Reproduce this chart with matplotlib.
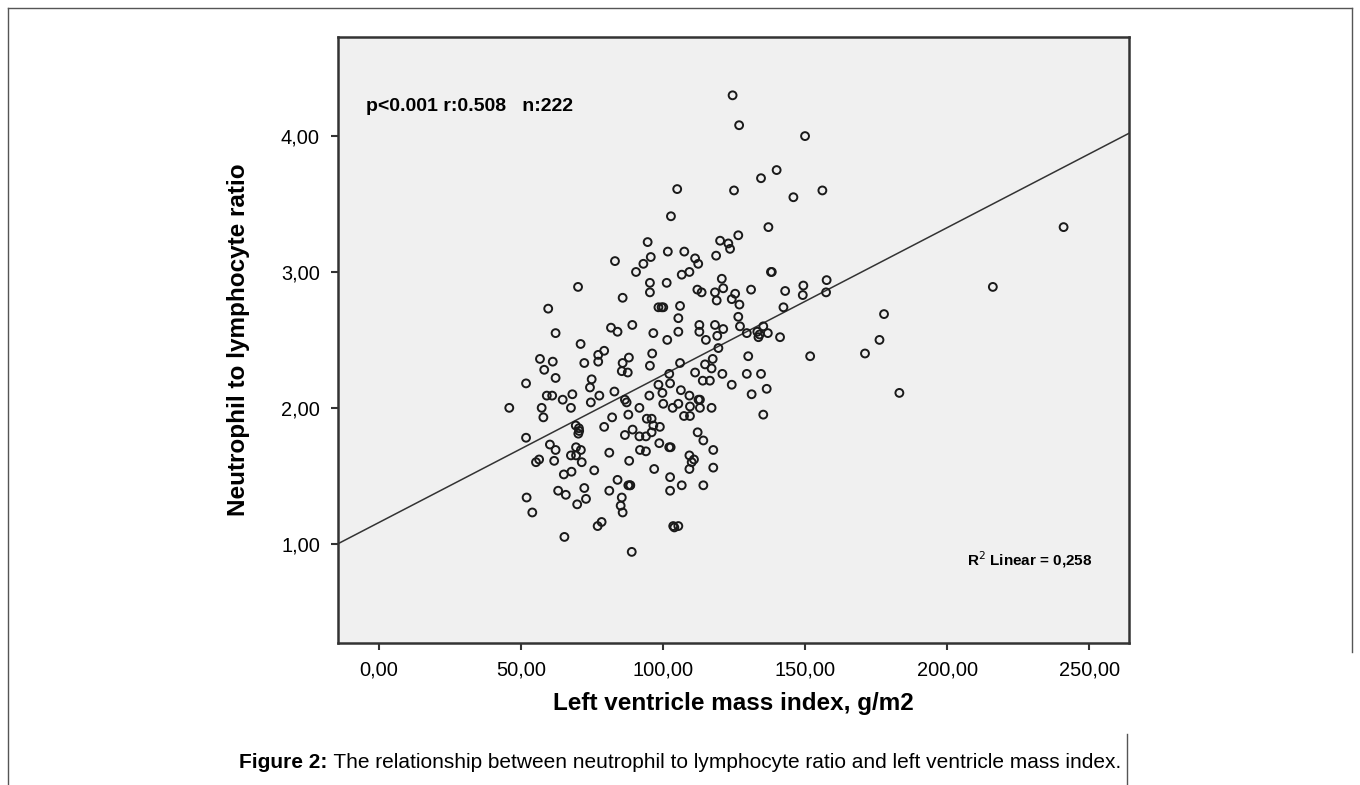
import matplotlib.pyplot as plt
from matplotlib.lines import Line2D

plt.rcParams['font.family'] = ['Liberation Sans', 'DejaVu Sans']

# left ventricle mass index (g/m2) and neutrophil to lymphocyte ratio
lvmi = [
    59.6, 62.2, 81.7, 84.0, 71.0, 79.3, 77.2, 77.2, 56.7, 61.2, 58.2, 72.3, 62.2, 51.8, 74.9,
    74.3, 82.9, 59.1, 61.0, 68.1, 77.6, 64.7, 74.6, 45.9, 57.3, 67.6, 57.9, 82.1, 69.3, 79.3,
    70.4, 70.2, 51.8, 60.2, 62.2, 69.4, 71.1, 81.1, 56.4, 55.3, 61.7, 67.6, 69.4, 71.4, 67.8,
    65.1, 75.8, 84.0, 72.3, 63.1, 65.8, 81.1, 52.0, 69.8, 72.9, 54.0, 77.0, 78.4, 65.3,
    105.0, 102.8, 94.6, 120.1, 123.0, 123.6, 83.1, 93.1, 95.7, 101.7, 107.5, 111.3, 112.4,
    118.7, 90.5, 106.6, 109.3, 95.4, 95.4, 101.3, 120.7, 112.1, 113.6, 118.3, 121.2, 85.8,
    98.4, 100.1, 106.0, 105.4, 89.2, 96.6, 101.5, 105.4, 112.8, 112.8, 118.3, 121.2, 119.1,
    115.1, 119.5, 96.2, 88.0, 85.8, 85.5, 87.6, 95.4, 106.0, 117.5, 114.8, 117.1, 111.3,
    120.9, 102.2, 102.5, 114.0, 116.5, 98.4, 99.8, 106.3, 109.3, 113.0, 86.6, 87.2, 95.2,
    100.1, 105.4, 103.4, 109.5, 91.7, 113.0, 117.1, 87.8, 94.3, 96.0, 107.4, 109.5, 118.9,
    96.6, 98.9, 86.6, 89.3, 91.7, 94.0, 96.0, 112.2, 114.2, 91.9, 94.0, 98.7, 102.2, 102.7,
    117.7, 109.3, 110.9, 110.1, 109.3, 117.7, 88.1, 96.9, 102.5, 106.6, 102.5, 114.2, 87.8,
    88.4, 85.5, 85.1, 85.8, 103.6, 105.4, 89.0,
    124.5, 126.8, 150.0, 140.0, 134.5, 125.0, 145.9, 156.1,
    137.1, 126.5, 138.0, 138.3, 125.4, 124.2, 126.9, 131.0, 143.0, 149.4, 149.2, 157.6,
    157.4, 142.4, 126.5, 127.1, 135.3,
    129.5, 133.2, 133.6, 136.9, 141.2, 130.0, 151.8, 124.2, 129.5, 134.5, 131.2, 136.5, 135.3,
    241.0, 216.1, 177.8, 176.2, 171.1, 183.2,
    70.1, 99.5, 112.5, 88.5, 70.5, 134.0, 104.0,
]
nlr = [
    2.73, 2.55, 2.59, 2.56, 2.47, 2.42, 2.39, 2.34, 2.36, 2.34, 2.28, 2.33, 2.22, 2.18, 2.21,
    2.15, 2.12, 2.09, 2.09, 2.10, 2.09, 2.06, 2.04, 2.00, 2.00, 2.00, 1.93, 1.93, 1.87, 1.86,
    1.85, 1.81, 1.78, 1.73, 1.69, 1.71, 1.69, 1.67, 1.62, 1.60, 1.61, 1.65, 1.65, 1.60, 1.53,
    1.51, 1.54, 1.47, 1.41, 1.39, 1.36, 1.39, 1.34, 1.29, 1.33, 1.23, 1.13, 1.16, 1.05,
    3.61, 3.41, 3.22, 3.23, 3.21, 3.17, 3.08, 3.06, 3.11, 3.15, 3.15, 3.10, 3.06,
    3.12, 3.00, 2.98, 3.00, 2.92, 2.85, 2.92, 2.95, 2.87, 2.85, 2.85, 2.88, 2.81,
    2.74, 2.74, 2.75, 2.66, 2.61, 2.55, 2.50, 2.56, 2.61, 2.56, 2.61, 2.58, 2.53,
    2.50, 2.44, 2.40, 2.37, 2.33, 2.27, 2.26, 2.31, 2.33, 2.36, 2.32, 2.29, 2.26,
    2.25, 2.25, 2.18, 2.20, 2.20, 2.17, 2.11, 2.13, 2.09, 2.06, 2.06, 2.04, 2.09,
    2.03, 2.03, 2.00, 2.01, 2.00, 2.00, 2.00, 1.95, 1.92, 1.92, 1.94, 1.94, 2.79,
    1.87, 1.86, 1.80, 1.84, 1.79, 1.79, 1.82, 1.82, 1.76, 1.69, 1.68, 1.74, 1.71, 1.71,
    1.69, 1.65, 1.62, 1.60, 1.55, 1.56, 1.61, 1.55, 1.49, 1.43, 1.39, 1.43, 1.43,
    1.43, 1.34, 1.28, 1.23, 1.13, 1.13, 0.94,
    4.30, 4.08, 4.00, 3.75, 3.69, 3.60, 3.55, 3.60,
    3.33, 3.27, 3.00, 3.00, 2.84, 2.80, 2.76, 2.87, 2.86, 2.90, 2.83, 2.94,
    2.85, 2.74, 2.67, 2.60, 2.60,
    2.55, 2.56, 2.52, 2.55, 2.52, 2.38, 2.38, 2.17, 2.25, 2.25, 2.10, 2.14, 1.95,
    3.33, 2.89, 2.69, 2.50, 2.40, 2.11,
    2.89, 2.74, 2.06, 1.43, 1.83, 2.54, 1.12,
]

# fit line as drawn in the reference
fit_intercept = 1.156
fit_slope = 0.01085

x_ticks = [0, 50, 100, 150, 200, 250]
y_ticks = [1, 2, 3, 4]
x_lim = (-14.4, 264.0)
y_lim = (0.27, 4.73)

annot = 'p<0.001 r:0.508   n:222'
r2_text = r'R$^{2}$ Linear = 0,258'
x_label = 'Left ventricle mass index, g/m2'
y_label = 'Neutrophil to lymphocyte ratio'
caption_bold = 'Figure 2:'
caption_rest = ' The relationship between neutrophil to lymphocyte ratio and left ventricle mass index.'

dark = '#333333'

fig = plt.figure(figsize=(13.6, 7.85), dpi=100)
ax = fig.add_axes([0.2485, 0.181, 0.5816, 0.772])
ax.set_facecolor('#F0F0F0')

ax.plot(x_lim, [fit_intercept + fit_slope * x for x in x_lim], color=dark, lw=1.1, zorder=2)
ax.scatter(lvmi, nlr, s=32, facecolors='none', edgecolors='#1a1a1a', linewidths=1.4, zorder=3)

ax.set_xlim(*x_lim)
ax.set_ylim(*y_lim)
ax.set_xticks(x_ticks)
ax.set_yticks(y_ticks)
ax.set_xticklabels([f'{v:.2f}'.replace('.', ',') for v in x_ticks])
ax.set_yticklabels([f'{v:.2f}'.replace('.', ',') for v in y_ticks])
ax.tick_params(direction='out', length=5, width=1.5, color=dark, labelsize=14.4, pad=8)
for sp in ax.spines.values():
    sp.set_color(dark)
    sp.set_linewidth(1.8)

ax.set_xlabel(x_label, fontsize=17.5, fontweight='bold', labelpad=9)
ax.set_ylabel(y_label, fontsize=17.5, fontweight='bold', labelpad=22)

ax.text(0.036, 0.885, annot, transform=ax.transAxes, fontsize=14, fontweight='bold', va='center')
ax.text(0.795, 0.138, r2_text, transform=ax.transAxes, fontsize=11, fontweight='bold', va='center')

# caption: bold part followed directly by the plain part
t1 = fig.text(0.176, 0.029, caption_bold, fontsize=15, fontweight='bold', va='center')
fig.canvas.draw()
x_end = fig.transFigure.inverted().transform(t1.get_window_extent().p1)[0]
fig.text(x_end, 0.029, caption_rest, fontsize=15, va='center')

# page frame around the chart
frame = dict(color='#555555', lw=1, transform=fig.transFigure)
fig.add_artist(Line2D([0.006, 0.006], [0.0, 0.99], **frame))
fig.add_artist(Line2D([0.006, 0.994], [0.99, 0.99], **frame))
fig.add_artist(Line2D([0.994, 0.994], [0.99, 0.17], **frame))
fig.add_artist(Line2D([0.829, 0.829], [0.0, 0.065], **frame))

fig.savefig('out.png', dpi=100)
